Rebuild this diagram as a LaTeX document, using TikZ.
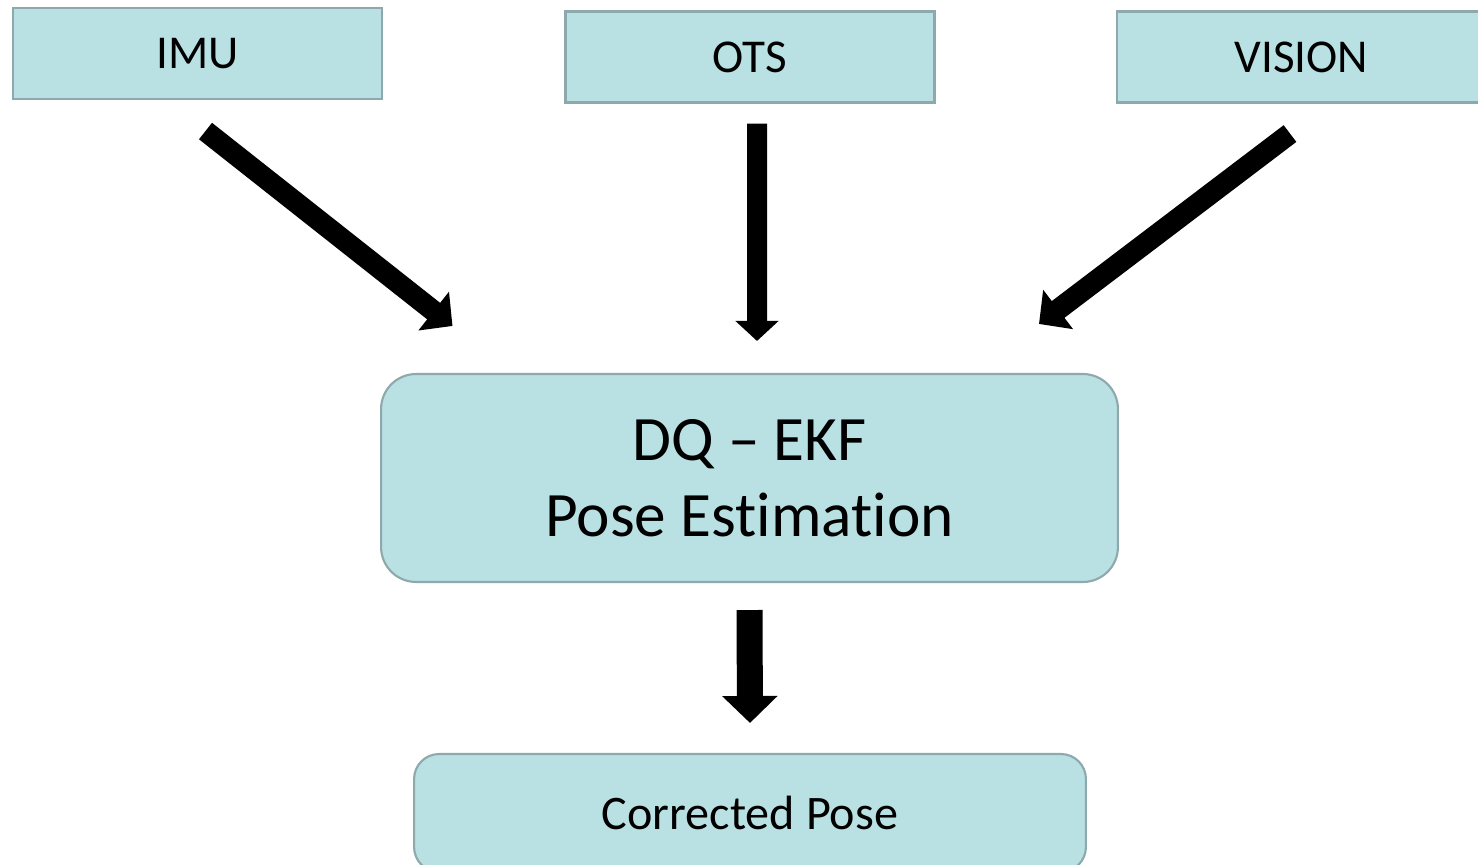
\documentclass[tikz,border=0pt]{standalone}
\usepackage{fontspec}
\setmainfont{Carlito}[Ligatures={NoCommon}]
\usepackage{xcolor}
\usepackage{tikz}
\usetikzlibrary{calc,arrows.meta}
\definecolor{boxfill}{HTML}{B9E0E3}
\definecolor{boxline}{HTML}{8DA9AC}
\tikzset{
  src/.style={draw=boxline, fill=boxfill, line width=1.2pt, minimum width=7.38cm, minimum height=1.82cm, font=\fontsize{26.8}{32}\selectfont},
  est/.style={draw=boxline, fill=boxfill, line width=1.2pt, rounded corners=0.7cm, minimum width=14.74cm, minimum height=4.16cm, align=center, font=\fontsize{36}{43}\selectfont},
  res/.style={draw=boxline, fill=boxfill, line width=1.2pt, rounded corners=0.5cm, minimum width=13.44cm, minimum height=2.36cm, font=\fontsize{27.4}{33}\selectfont},
  feed/.style={draw=black, line width=0.4cm, -{Triangle[width=0.84cm,length=0.4cm]}},
  slant/.style={draw=black, line width=0.42cm, -{Triangle[width=0.96cm,length=0.48cm]}},
  outp/.style={draw=black, line width=0.52cm, -{Triangle[width=1.08cm,length=0.54cm]}},
}
\begin{document}
\begin{tikzpicture}[x=0.02cm,y=0.02cm]
  \useasboundingbox (0,0) rectangle (1478,-865);
  % sensors
  \node[src] (imu) at (197.5,-53.5) {IMU};
  \node[src] (ots) at (750,-57) {OTS};
  \node[src] (vision) at (1301.5,-57) {VISION};
  % filter and result
  \node[est] (dq) at (749.5,-478) {DQ -- EKF\\Pose Estimation};
  \node[res] (cp) at (750,-813) {Corrected Pose};
  % arrow ends
  \coordinate (imuA) at ([shift={(8,-31)}]imu.south);
  \coordinate (imuB) at ([shift={(-297,47)}]dq.north);
  \coordinate (otsA) at ([shift={(7,-20)}]ots.south);
  \coordinate (otsB) at ([shift={(7.5,32)}]dq.north);
  \coordinate (visA) at ([shift={(-11.5,-30)}]vision.south);
  \coordinate (visB) at ([shift={(289.5,49)}]dq.north);
  \coordinate (dqA) at ([shift={(0,-27)}]dq.south);
  \coordinate (cpB) at ([shift={(0,30)}]cp.north);
  \draw[slant] (imuA) -- (imuB);
  \draw[feed] (otsA) -- (otsB);
  \draw[slant] (visA) -- (visB);
  \draw[outp] (dqA) -- (cpB);
\end{tikzpicture}
\end{document}
